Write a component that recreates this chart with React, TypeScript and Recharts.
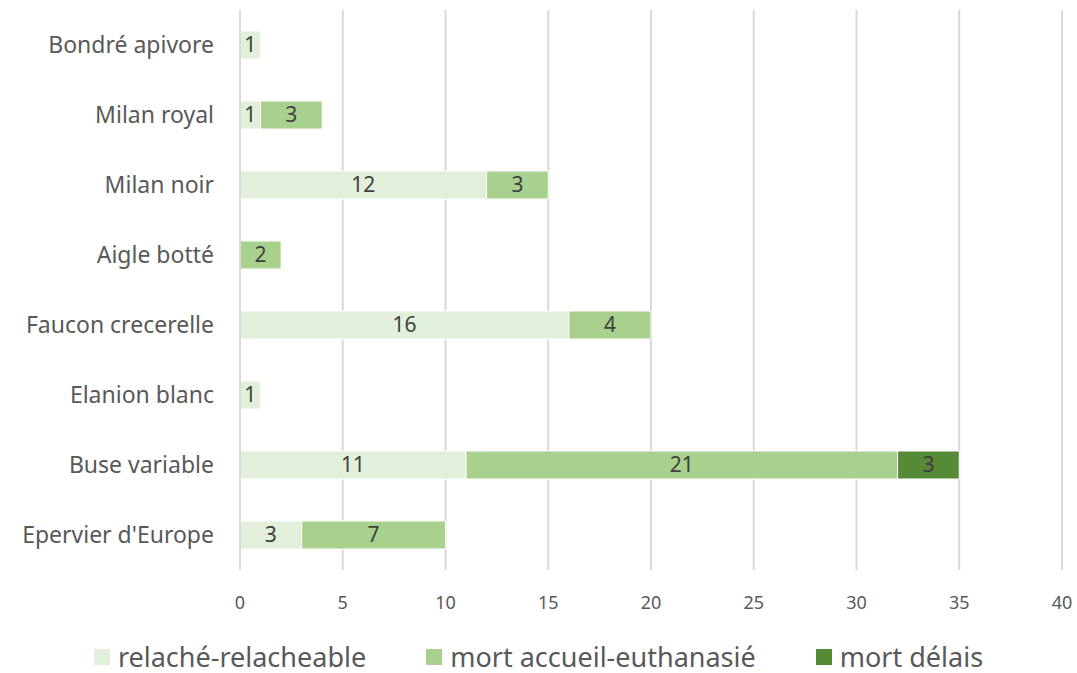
import { BarChart, Bar, XAxis, YAxis, CartesianGrid, Legend, LabelList } from 'recharts';

const species = [
  'Bondré apivore',
  'Milan royal',
  'Milan noir',
  'Aigle botté',
  'Faucon crecerelle',
  'Elanion blanc',
  'Buse variable',
  "Epervier d'Europe",
];
const relache = [1, 1, 12, 0, 16, 1, 11, 3];
const mortAccueil = [0, 3, 3, 2, 4, 0, 21, 7];
const mortDelais = [0, 0, 0, 0, 0, 0, 3, 0];
const xTicks = [0, 5, 10, 15, 20, 25, 30, 35, 40];

const seriesNames = ['relaché-relacheable', 'mort accueil-euthanasié', 'mort délais'];
const seriesColors = ['#e2efda', '#a9d18e', '#578a36'];

const data = species.map((name, i) => ({
  name,
  relache: relache[i],
  accueil: mortAccueil[i],
  delais: mortDelais[i],
}));

const font = '"Noto Sans", sans-serif';
const hideZero = (v: any) => (v ? v : '');

// legend drawn by hand so the order matches the source
const LegendBox = () => (
  <div style={{ display: 'flex', justifyContent: 'center', alignItems: 'center', gap: 60, height: 28 }}>
    {seriesNames.map((n, i) => (
      <div key={n} style={{ display: 'flex', alignItems: 'center' }}>
        <span style={{ width: 16, height: 16, background: seriesColors[i], marginRight: 8, display: 'inline-block' }} />
        <span style={{ color: '#595959', fontSize: 27, lineHeight: '28px', fontFamily: font }}>{n}</span>
      </div>
    ))}
  </div>
);

const App = () => {
  return (
    <div style={{ position: 'absolute', left: 0, top: 0, fontFamily: font }}>
      <BarChart
        width={1077}
        height={673}
        data={data}
        layout="vertical"
        barCategoryGap="30%"
        margin={{ top: 10, right: 15, left: 0, bottom: 0 }}
      >
        <CartesianGrid horizontal={false} stroke="#d9d9d9" strokeWidth={2} />
        <XAxis
          type="number"
          domain={[0, 40]}
          ticks={xTicks}
          axisLine={false}
          tickLine={false}
          tickMargin={20}
          height={50}
          tick={{ fill: '#595959', fontSize: 18, fontFamily: font }}
        />
        <YAxis
          dataKey="name"
          type="category"
          width={240}
          tickLine={false}
          tickSize={0}
          tickMargin={26}
          axisLine={{ stroke: '#d9d9d9', strokeWidth: 2 }}
          tick={{ fill: '#595959', fontSize: 23, fontFamily: font }}
        />
        <Legend
          verticalAlign="bottom"
          height={53}
          content={<LegendBox />}
          wrapperStyle={{ top: 643, bottom: 'auto', left: 0, width: 1077 }}
        />
        <Bar dataKey="relache" name={seriesNames[0]} stackId="a" fill={seriesColors[0]} stroke="#ffffff" isAnimationActive={false}>
          <LabelList dataKey="relache" position="center" fill="#404040" fontSize={21} formatter={hideZero} />
        </Bar>
        <Bar dataKey="accueil" name={seriesNames[1]} stackId="a" fill={seriesColors[1]} stroke="#ffffff" isAnimationActive={false}>
          <LabelList dataKey="accueil" position="center" fill="#404040" fontSize={21} formatter={hideZero} />
        </Bar>
        <Bar dataKey="delais" name={seriesNames[2]} stackId="a" fill={seriesColors[2]} stroke="#ffffff" isAnimationActive={false}>
          <LabelList dataKey="delais" position="center" fill="#404040" fontSize={21} formatter={hideZero} />
        </Bar>
      </BarChart>
    </div>
  );
};

export default App;
